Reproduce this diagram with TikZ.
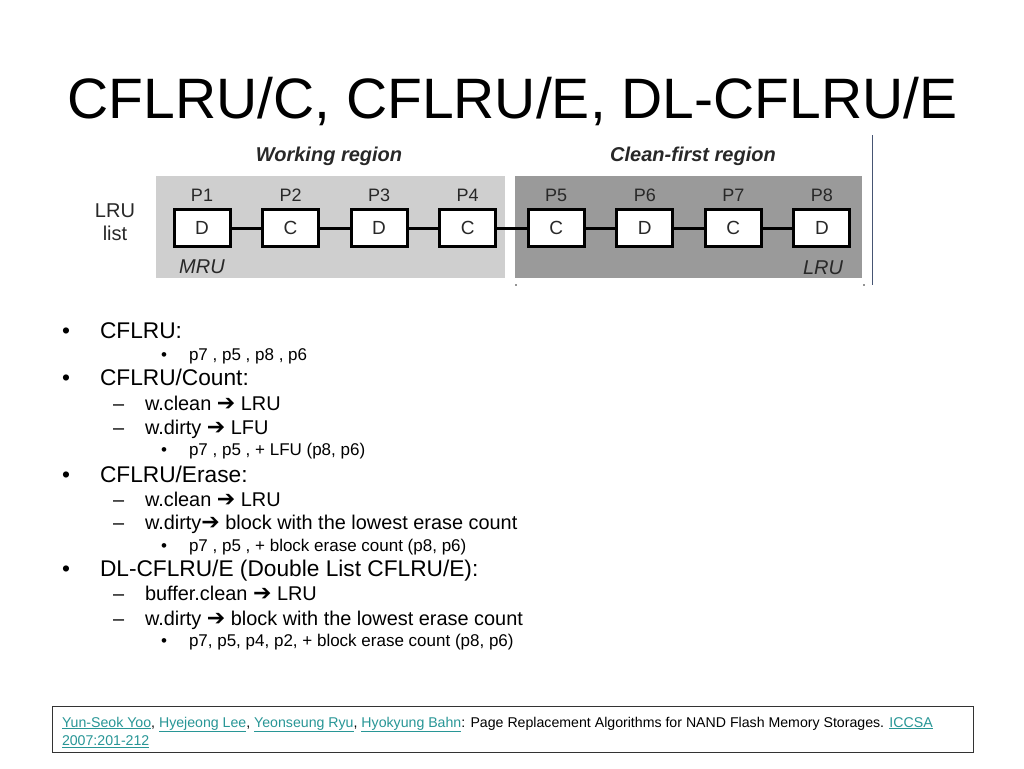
\documentclass[tikz,border=0pt]{standalone}
\usepackage{fontspec}
\setmainfont{Liberation Sans}
\newfontfamily\arrowfont{DejaVu Sans}
\definecolor{linkc}{RGB}{40,150,150}
\definecolor{lightg}{RGB}{207,207,207}
\definecolor{darkg}{RGB}{154,154,154}
\definecolor{labg}{RGB}{40,40,40}
\definecolor{vline}{RGB}{70,85,115}
\newcommand{\arr}{{\arrowfont\fontsize{22}{22}\selectfont ➔}}
\newcommand{\lnk}[1]{\textcolor{linkc}{\underline{#1}}}
\begin{document}
\begin{tikzpicture}[x=1pt,y=-1pt,
  every node/.style={inner sep=0pt, outer sep=0pt},
  titlestyle/.style={anchor=base, font=\fontsize{57}{60}\selectfont},
  regionlab/.style={anchor=base, text=labg, font=\fontsize{20}{22}\selectfont\bfseries\itshape},
  pbox/.style={draw=black, line width=3pt, fill=white, minimum width=56pt, minimum height=37pt, text=labg, font=\fontsize{19}{21}\selectfont},
  plab/.style={anchor=base, text=labg, font=\fontsize{18}{20}\selectfont},
  sidelab/.style={anchor=base, text=labg, font=\fontsize{20}{22}\selectfont},
  sidelabit/.style={anchor=base, text=labg, font=\fontsize{20}{22}\selectfont\itshape},
  link/.style={line width=3pt, draw=black},
  lvlone/.style={anchor=base west, font=\fontsize{22.7}{26}\selectfont},
  lvltwo/.style={anchor=base west, font=\fontsize{19.9}{23}\selectfont},
  lvlthree/.style={anchor=base west, font=\fontsize{17}{20}\selectfont},
  refstyle/.style={anchor=base west, font=\fontsize{14.15}{16}\selectfont},
]
\useasboundingbox (0,0) rectangle (1024,768);
\fill[white] (0,0) rectangle (1024,768);

% title
\node[titlestyle] (title) at (512.5,118) {CFLRU/C, CFLRU/E, DL-CFLRU/E};

% diagram background regions
\fill[lightg] (156,176) rectangle (505,278);
\fill[darkg] (515,176) rectangle (862,278);
\draw[vline, line width=1pt] (872.5,135) -- (872.5,285);
\fill[labg] (516,285) circle (0.9);
\fill[labg] (864,285) circle (0.9);

\node[regionlab] (wr) at (329,161) {Working region};
\node[regionlab] (cf) at (693,161) {Clean-first region};

% boxes
\foreach \i/\t [count=\k from 0] in {1/D,2/C,3/D,4/C,5/C,6/D,7/C,8/D}{
  \node[pbox] (p\i) at ({202+88.55*\k},228) {\t};
  \node[plab] (l\i) at ({202+88.55*\k},201.5) {P\i};
}
\draw[link] (p1.east) -- (p2.west);
\draw[link] (p2.east) -- (p3.west);
\draw[link] (p3.east) -- (p4.west);
\draw[link] (p4.east) -- (p5.west);
\draw[link] (p5.east) -- (p6.west);
\draw[link] (p6.east) -- (p7.west);
\draw[link] (p7.east) -- (p8.west);

\node[sidelab] (lru1) at (115,217) {LRU};
\node[sidelab] (lru2) at (115,240) {list};
\node[sidelabit] (mru) at (202,273) {MRU};
\node[sidelabit] (lru) at (823,274) {LRU};

% bullets level 1
\node[lvlone] (b1) at (62,338.5) {•};
\node[lvlone] (t1) at (100,338.5) {CFLRU:};
\node[lvlthree] (b1a) at (161,360) {•};
\node[lvlthree] (t1a) at (189,360) {p7 , p5 , p8 , p6};

\node[lvlone] (b2) at (62,385.5) {•};
\node[lvlone] (t2) at (100,385.5) {CFLRU/Count:};
\node[lvltwo] (b2a) at (113,410) {–};
\node[lvltwo] (t2a) at (145,410) {w.clean \arr{} LRU};
\node[lvltwo] (b2b) at (113,434) {–};
\node[lvltwo] (t2b) at (145,434) {w.dirty \arr{} LFU};
\node[lvlthree] (b2c) at (161,455) {•};
\node[lvlthree] (t2c) at (189,455) {p7 , p5 , + LFU (p8, p6)};

\node[lvlone] (b3) at (62,482) {•};
\node[lvlone] (t3) at (100,482) {CFLRU/Erase:};
\node[lvltwo] (b3a) at (113,506) {–};
\node[lvltwo] (t3a) at (145,506) {w.clean \arr{} LRU};
\node[lvltwo] (b3b) at (113,529) {–};
\node[lvltwo] (t3b) at (145,529) {w.dirty\arr{} block with the lowest erase count};
\node[lvlthree] (b3c) at (161,551) {•};
\node[lvlthree] (t3c) at (189,551) {p7 , p5 , + block erase count (p8, p6)};

\node[lvlone] (b4) at (62,576.5) {•};
\node[lvlone] (t4) at (100,576.5) {DL-CFLRU/E (Double List CFLRU/E):};
\node[lvltwo] (b4a) at (113,600.5) {–};
\node[lvltwo] (t4a) at (145,600.5) {buffer.clean \arr{} LRU};
\node[lvltwo] (b4b) at (113,625) {–};
\node[lvltwo] (t4b) at (145,625) {w.dirty \arr{} block with the lowest erase count};
\node[lvlthree] (b4c) at (161,646.5) {•};
\node[lvlthree] (t4c) at (189,646.5) {p7, p5, p4, p2, + block erase count (p8, p6)};

% reference box
\draw[black!80, line width=1pt] (52.5,706.5) rectangle (973,752.5);
\node[refstyle] (ref1) at (62,727) {\lnk{Yun-Seok Yoo}, \lnk{Hyejeong Lee}, \lnk{Yeonseung Ryu}, \lnk{Hyokyung Bahn}: Page Replacement Algorithms for NAND Flash Memory Storages. \lnk{ICCSA}};
\node[refstyle] (ref2) at (62,745.5) {\lnk{2007:201-212}};
\end{tikzpicture}
\end{document}
